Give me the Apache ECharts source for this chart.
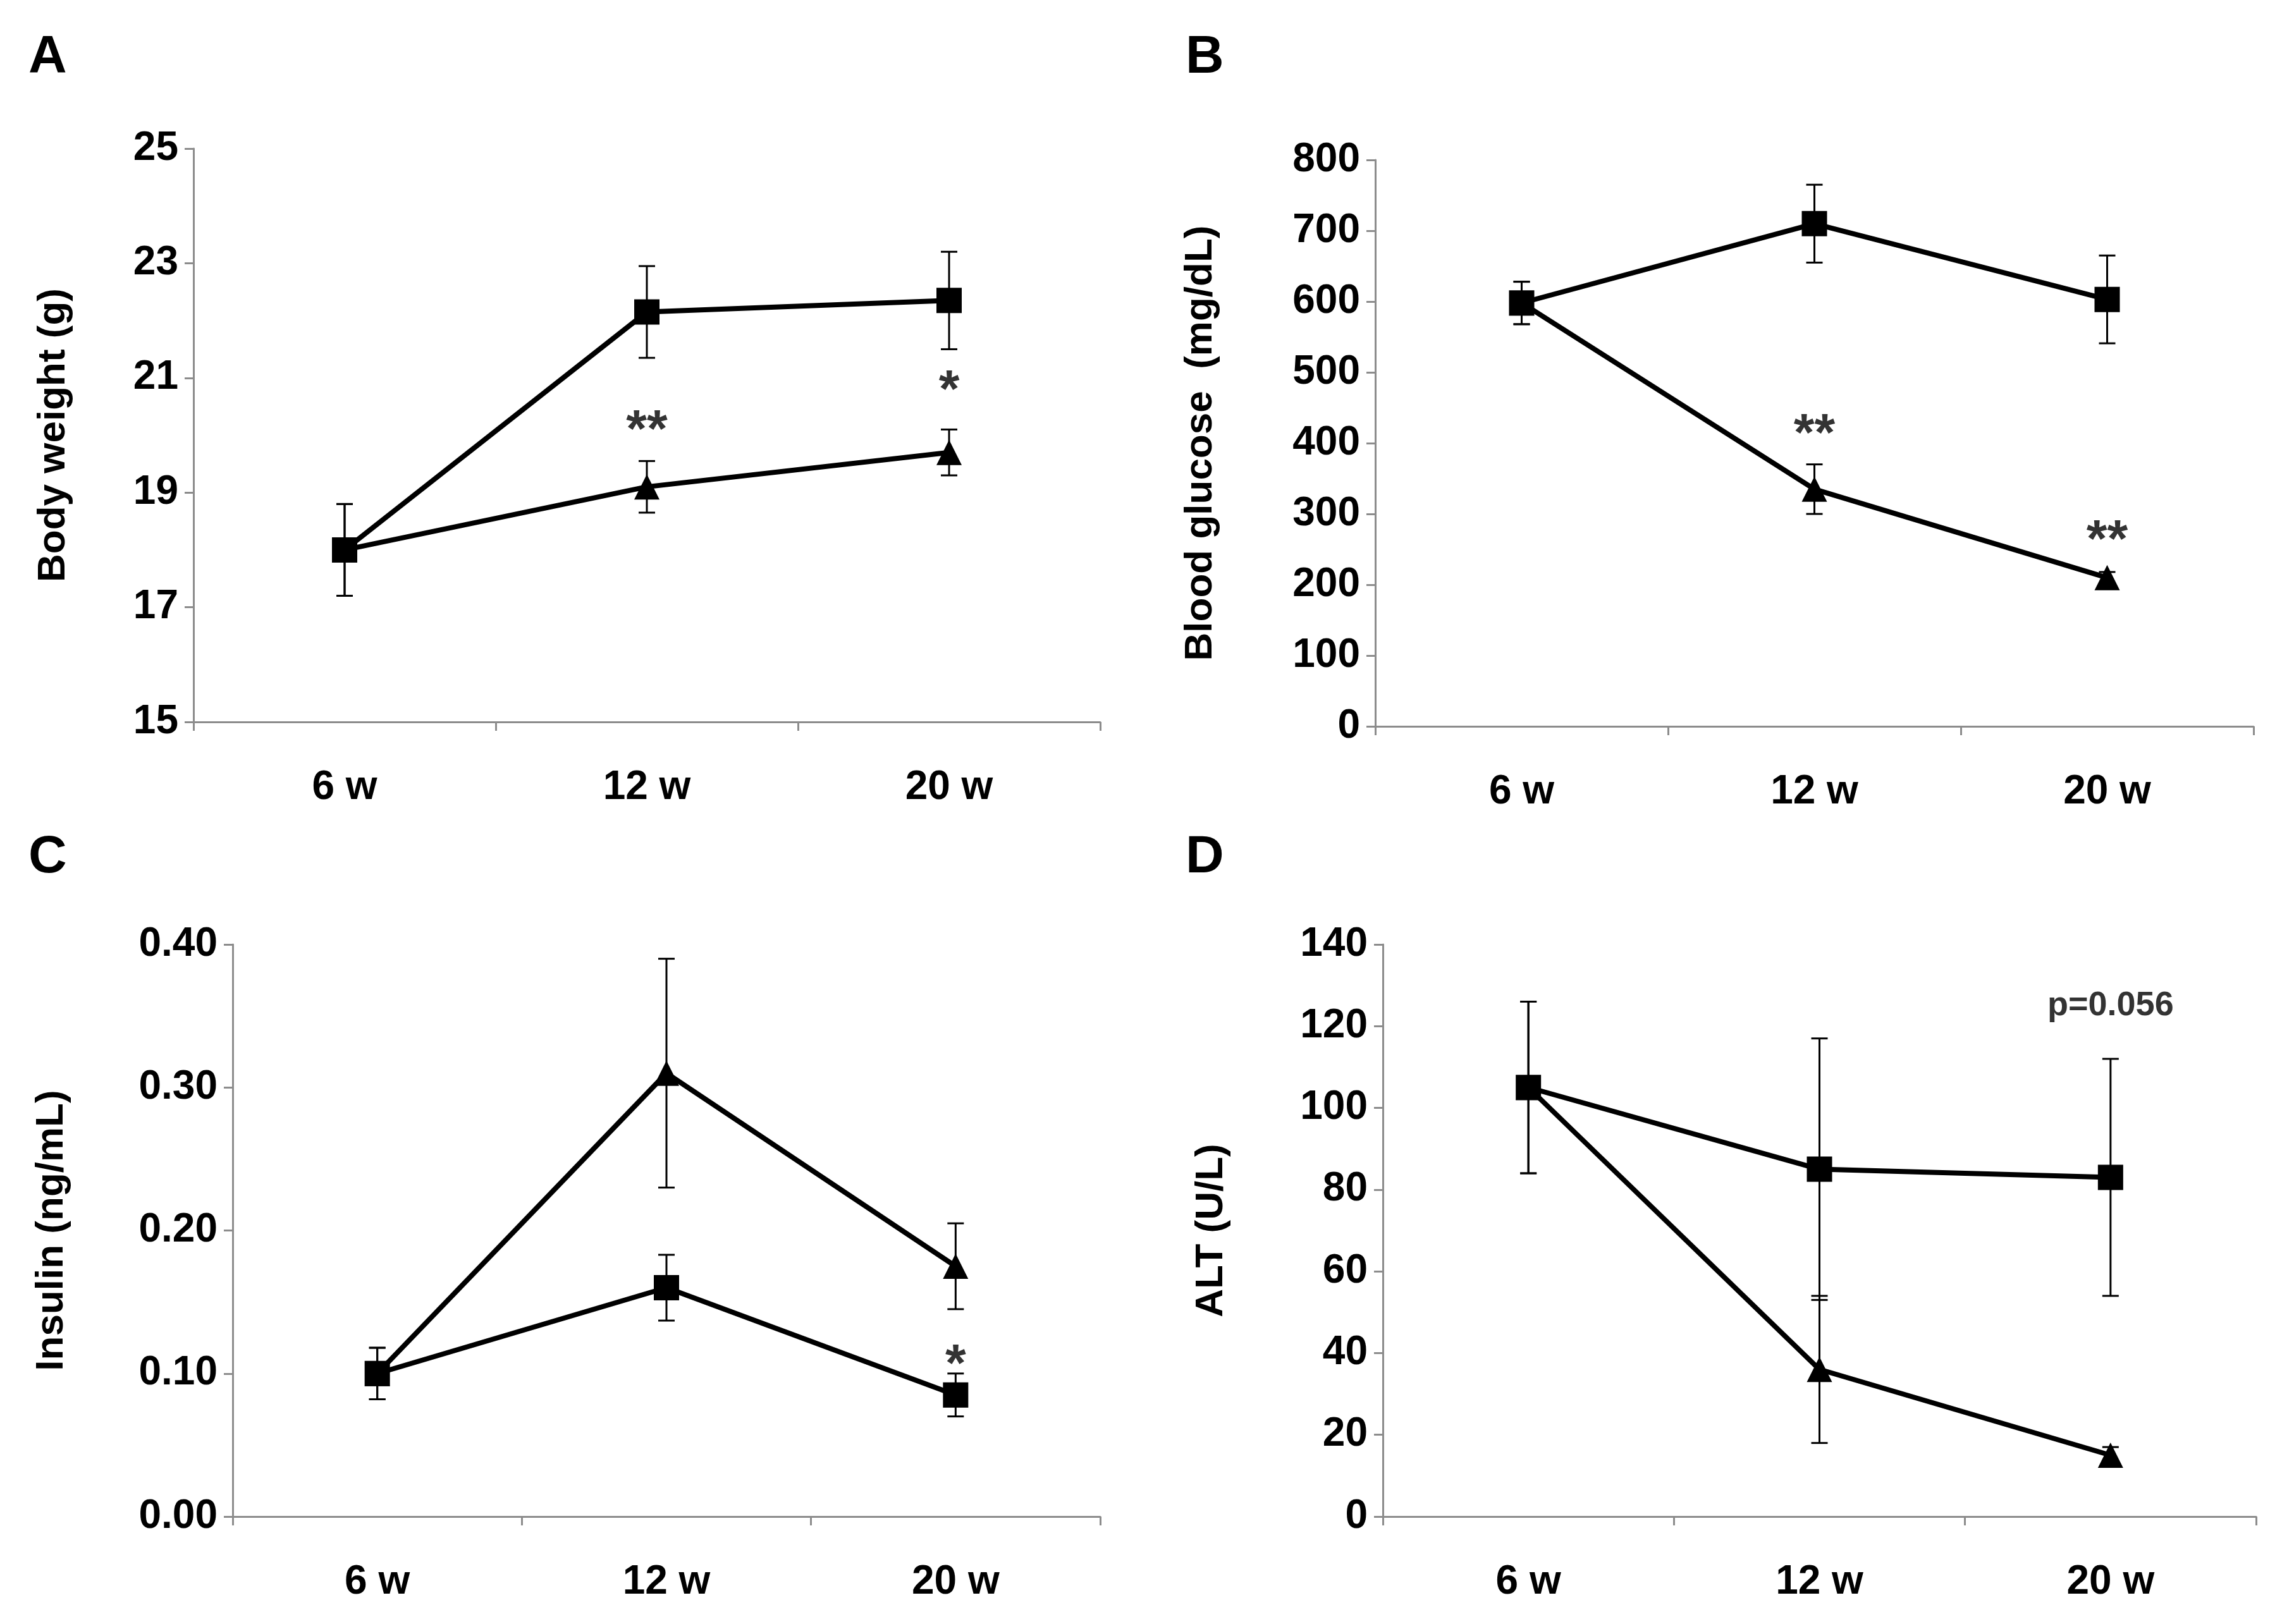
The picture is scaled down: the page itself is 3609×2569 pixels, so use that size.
<!DOCTYPE html>
<html><head><meta charset="utf-8">
<script src="https://cdn.jsdelivr.net/npm/echarts@6/dist/echarts.min.js"></script>
<style>html,body{margin:0;padding:0;background:#fff}#c{width:3609px;height:2569px}</style>
</head><body><div id="c"></div>
<script>
const categories = ['6 w','12 w','20 w'];
// Panel A: Body weight (g)
const aSq = [18.0, 22.15, 22.35], aSqErr = [0.8, 0.8, 0.85];
const aTr = [18.0, 19.1, 19.7], aTrErr = [0.8, 0.45, 0.4];
const aStars = [[1, 20.05, '**'], [2, 20.75, '*']];
// Panel B: Blood glucose (mg/dL)
const bSq = [598, 710, 603], bSqErr = [30, 55, 62];
const bTr = [598, 335, 210], bTrErr = [30, 35, 8];
const bStars = [[1, 410, '**'], [2, 260, '**']];
// Panel C: Insulin (ng/mL)
const cSq = [0.10, 0.16, 0.085], cSqErr = [0.018, 0.023, 0.015];
const cTr = [0.10, 0.31, 0.175], cTrErr = [0.018, 0.08, 0.03];
const cStars = [[2, 0.105, '*']];
// Panel D: ALT (U/L)
const dSq = [105, 85, 83], dSqErr = [21, 32, 29];
const dTr = [105, 36, 15], dTrErr = [21, 18, 2];
const dStars = [[2, 125, 'p=0.056']];

const font = 'Liberation Sans, Arial, sans-serif';
const panels = [
  {letter:'A', name:'Body weight (g)', min:15, max:25, interval:2, fmt:v=>v, sq:aSq, sqE:aSqErr, tr:aTr, trE:aTrErr, stars:aStars,
   grid:{left:306, top:235, width:1434, height:907}, nameGap:190, lx:45, ly:50},
  {letter:'B', name:'Blood glucose  (mg/dL)', min:0, max:800, interval:100, fmt:v=>v, sq:bSq, sqE:bSqErr, tr:bTr, trE:bTrErr, stars:bStars,
   grid:{left:2175, top:253, width:1389, height:896}, nameGap:245, lx:1875, ly:50},
  {letter:'C', name:'Insulin (ng/mL)', min:0, max:0.4, interval:0.1, fmt:v=>v.toFixed(2), sq:cSq, sqE:cSqErr, tr:cTr, trE:cTrErr, stars:cStars,
   grid:{left:368, top:1494, width:1372, height:905}, nameGap:255, lx:45, ly:1315},
  {letter:'D', name:'ALT (U/L)', min:0, max:140, interval:20, fmt:v=>v, sq:dSq, sqE:dSqErr, tr:dTr, trE:dTrErr, stars:dStars,
   grid:{left:2187, top:1494, width:1381, height:905}, nameGap:240, lx:1875, ly:1315}
];

const grids=[], xAxes=[], yAxes=[], series=[], graphics=[];
function errSeries(i, vals, errs){
  return {type:'custom', xAxisIndex:i, yAxisIndex:i, z:1,
    data: vals.map((v,k)=>[k, v, errs[k]]),
    renderItem:(params, api)=>{
      const x=api.value(0), y=api.value(1), e=api.value(2);
      const top=api.coord([x, y+e]), bot=api.coord([x, y-e]);
      const s={stroke:'#000', lineWidth:3};
      return {type:'group', children:[
        {type:'line', shape:{x1:top[0],y1:top[1],x2:bot[0],y2:bot[1]}, style:s},
        {type:'line', shape:{x1:top[0]-13,y1:top[1],x2:top[0]+13,y2:top[1]}, style:s},
        {type:'line', shape:{x1:bot[0]-13,y1:bot[1],x2:bot[0]+13,y2:bot[1]}, style:s}
      ]};
    }};
}
panels.forEach((p,i)=>{
  grids.push(p.grid);
  xAxes.push({type:'category', gridIndex:i, data:categories, boundaryGap:true,
    axisLine:{lineStyle:{color:'#8c8c8c', width:3}},
    axisTick:{show:true, length:14, lineStyle:{color:'#8c8c8c', width:3}},
    axisLabel:{fontFamily:font, fontWeight:'bold', fontSize:64, color:'#000', margin:72}});
  yAxes.push({type:'value', gridIndex:i, min:p.min, max:p.max, interval:p.interval,
    name:p.name, nameLocation:'middle', nameGap:p.nameGap,
    nameTextStyle:{fontFamily:font, fontWeight:'bold', fontSize:62, color:'#000'},
    splitLine:{show:false},
    axisLine:{show:true, lineStyle:{color:'#8c8c8c', width:3}},
    axisTick:{show:true, length:14, lineStyle:{color:'#8c8c8c', width:3}},
    axisLabel:{fontFamily:font, fontWeight:'bold', fontSize:64, color:'#000', margin:24, formatter:p.fmt}});
  series.push(errSeries(i, p.sq, p.sqE));
  series.push(errSeries(i, p.tr, p.trE));
  series.push({type:'line', xAxisIndex:i, yAxisIndex:i, data:p.sq, symbol:'rect', symbolSize:40,
    lineStyle:{color:'#000', width:8}, itemStyle:{color:'#000'}, z:3});
  series.push({type:'line', xAxisIndex:i, yAxisIndex:i, data:p.tr, symbol:'triangle', symbolSize:40,
    lineStyle:{color:'#000', width:8}, itemStyle:{color:'#000'}, z:3});
  series.push({type:'scatter', xAxisIndex:i, yAxisIndex:i, symbol:'circle', symbolSize:2,
    itemStyle:{color:'rgba(0,0,0,0)'},
    data:p.stars.map(s=>({value:[s[0], s[1]], name:s[2]})),
    label:{show:true, position:'inside', formatter:d=>d.name, fontFamily:font, fontWeight:'bold',
      fontSize: p.stars[0][2].startsWith('p') ? 54 : 84, color:'#000'}, z:4});
  graphics.push({type:'text', left:p.lx, top:p.ly, style:{text:p.letter, font:'bold 84px '+font, fill:'#000'}});
});
const chart = echarts.init(document.getElementById('c'));
chart.setOption({animation:false, backgroundColor:'#fff', grid:grids, xAxis:xAxes, yAxis:yAxes, series:series, graphic:graphics});
</script></body></html>
